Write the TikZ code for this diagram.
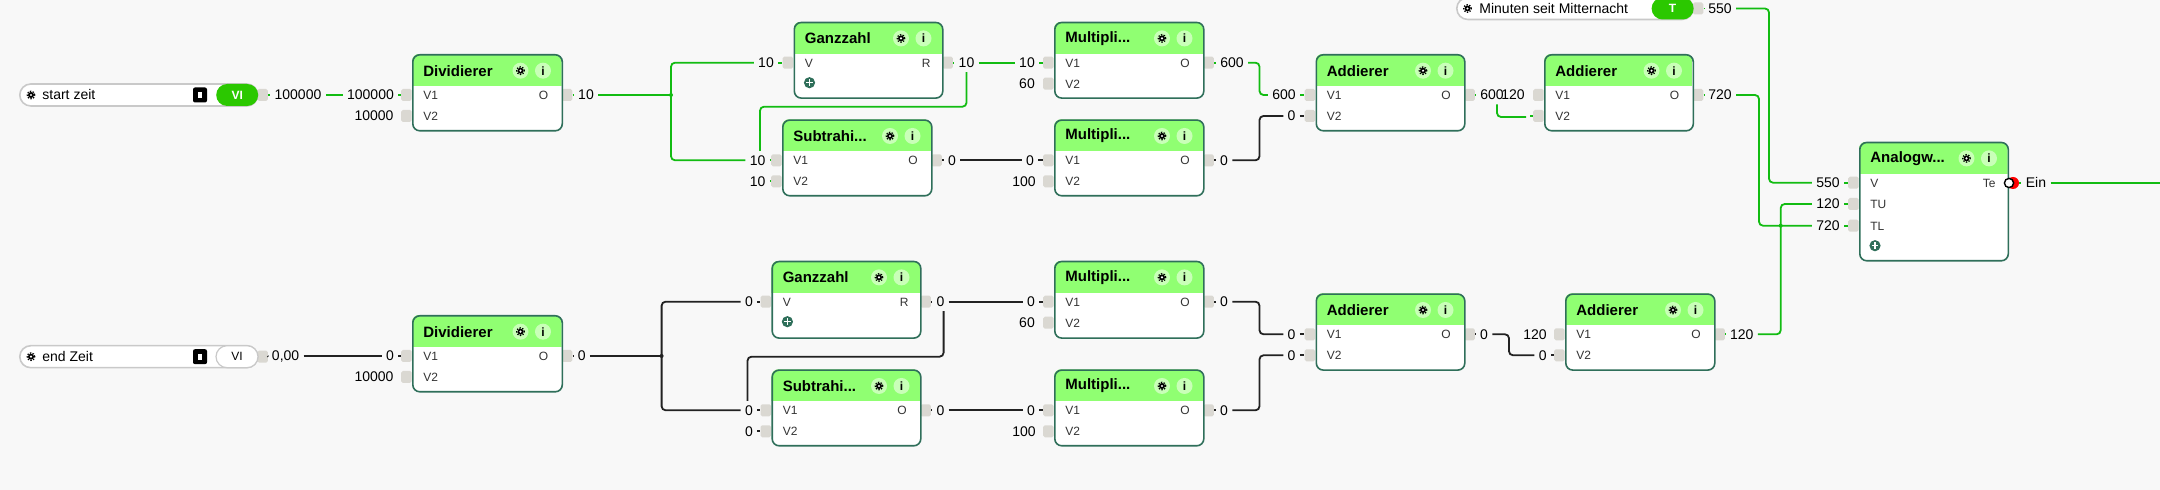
\documentclass[tikz,border=0pt]{standalone}
\usepackage{fontspec}
\setmainfont{Liberation Sans}
\definecolor{bgc}{HTML}{F8F8F8}
\definecolor{hdrc}{HTML}{90FF72}
\definecolor{icoc}{HTML}{C9FFB8}
\definecolor{bordc}{HTML}{2F6F5A}
\definecolor{nubc}{HTML}{DAD8D2}
\definecolor{wgreen}{HTML}{12BC12}
\definecolor{wblack}{HTML}{222222}
\definecolor{pillg}{HTML}{2BC800}
\definecolor{pillb}{HTML}{C9C9C9}
\tikzset{
 gw/.style={draw=wgreen,line width=.9pt,rounded corners=2pt},
 bw/.style={draw=wblack,line width=.9pt,rounded corners=2pt},
 blockbox/.style={draw=bordc,line width=.8pt,rounded corners=3.5pt,inner sep=0pt,anchor=north west},
 nubsty/.style={fill=nubc,inner sep=0pt,minimum width=5.2pt,minimum height=6pt,rounded corners=.8pt},
 lbl/.style={font=\fontsize{7}{8}\selectfont,inner xsep=2pt,inner ysep=2pt,text height=5pt,text depth=0pt,text=black},
 rowt/.style={font=\fontsize{6}{7}\selectfont,inner sep=0pt,text height=4.4pt,text depth=0pt,text=black!80},
 titlet/.style={font=\bfseries\fontsize{7.5}{9}\selectfont,inner sep=0pt,anchor=west,text=black},
 icoc/.style={circle,fill=icoc,inner sep=0pt,minimum size=8pt},
 infot/.style={font=\bfseries\fontsize{6}{7}\selectfont,inner sep=0pt},
 pillb/.style={draw=pillb,line width=.8pt,fill=white,rounded corners=5.5pt,inner sep=0pt,minimum height=11pt,anchor=west},
 pillg/.style={fill=pillg,rounded corners=5.5pt,inner sep=0pt,minimum height=11pt,minimum width=21pt,anchor=east,text=white,font=\bfseries\fontsize{6}{7}\selectfont},
 pillw/.style={draw=pillb,line width=.6pt,fill=white,rounded corners=5.5pt,inner sep=0pt,minimum height=11pt,minimum width=21pt,anchor=east,text=black,font=\fontsize{6}{7}\selectfont},
 pillt/.style={font=\fontsize{7}{8}\selectfont,inner sep=0pt,anchor=west,text=black},
 keysq/.style={fill=black,rounded corners=1pt,inner sep=0pt,minimum width=7pt,minimum height=7.5pt},
 plusn/.style={circle,fill=bordc,inner sep=0pt,minimum size=5.6pt},
 jdot/.style={circle,fill=wgreen,inner sep=0pt,minimum size=2pt},
 jdotb/.style={circle,fill=wblack,inner sep=0pt,minimum size=2pt},
}
\newcommand\gearmark[1]{%
 \fill[black] #1 circle (1.5pt);
 \draw[black,line width=.6pt,dash pattern=on .7pt off .7pt] #1 circle (1.9pt);
 \fill[white] #1 circle (.6pt);}
% common frame of a block: name x1 y1 x2 y2 title
\newcommand\blkframe[6]{%
 \pgfmathsetmacro\bw{(#4-#2)/2}\pgfmathsetmacro\bh{(#5-#3)/2}%
 \fill[white,rounded corners=3.5pt] (#2,#3) rectangle (#4,#5);
 \begin{scope}
 \clip[rounded corners=3.5pt] (#2,#3) rectangle (#4,#5);
 \fill[hdrc] (#2,#3) rectangle (#4,#3+32);
 \end{scope}
 \node[blockbox,minimum width=\bw pt,minimum height=\bh pt] (#1) at (#2,#3) {};
 \node[titlet] (#1-t) at (#2+11,#3+16.7) {#6};
 \node[icoc] (#1-g) at (#4-41,#3+16.7) {};
 \gearmark{(#1-g.center)}
 \node[icoc] (#1-f) at (#4-18.5,#3+16.7) {};
 \node[infot] (#1-ft) at (#1-f.center) {i};
}
\newcommand\nubl[2]{\node[nubsty,anchor=east] (#1) at #2 {};}
\newcommand\nubr[2]{\node[nubsty,anchor=west] (#1) at #2 {};}
% two-input block with output O
\newcommand\vvblk[6]{%
 \nubl{#1-i1}{(#2,#3+41)}\nubl{#1-i2}{(#2,#3+62)}\nubr{#1-o}{(#4,#3+41)}
 \blkframe{#1}{#2}{#3}{#4}{#5}{#6}
 \node[rowt,anchor=west] (#1-a) at (#2+11,#3+41) {V1};
 \node[rowt,anchor=west] (#1-b) at (#2+11,#3+62) {V2};
 \node[rowt,anchor=east] (#1-c) at (#4-13,#3+41) {O};
}
% Ganzzahl block
\newcommand\gzblk[5]{%
 \nubl{#1-i1}{(#2,#3+41)}\nubr{#1-o}{(#4,#3+41)}
 \blkframe{#1}{#2}{#3}{#4}{#5}{Ganzzahl}
 \node[rowt,anchor=west] (#1-a) at (#2+11,#3+41) {V};
 \node[rowt,anchor=east] (#1-c) at (#4-11,#3+41) {R};
 \node[plusn] (#1-p) at (#2+16,#3+61) {};
 \draw[white,line width=.6pt] ([xshift=-1.7pt]#1-p.center) -- ([xshift=1.7pt]#1-p.center) ([yshift=-1.7pt]#1-p.center) -- ([yshift=1.7pt]#1-p.center);
}
\newcommand\lb[4]{\node[lbl] (#1) at (#2,#3) {#4};}
\begin{document}
\begin{tikzpicture}[x=.5pt,y=-.5pt]
\fill[bgc] (0,0) rectangle (2160,490);
\useasboundingbox (0,0) rectangle (2160,490);

% ---------- input pills
\nubr{p1-o}{(257,95)}
\node[pillb,minimum width=119pt] (p1) at (19,95) {};
\node[pillg] (p1-v) at (p1.east) {VI};
\node[keysq] (p1-k) at (200,95) {};
\fill[white] ([xshift=-.8pt,yshift=-1.5pt]p1-k.center) rectangle ([xshift=.8pt,yshift=1.5pt]p1-k.center);
\gearmark{(31,95)}
\node[pillt] (p1-t) at (42,95) {start zeit};

\nubr{p2-o}{(257,356.7)}
\node[pillb,minimum width=119pt] (p2) at (19,356.7) {};
\node[pillw] (p2-v) at (p2.east) {VI};
\node[keysq] (p2-k) at (200,356.7) {};
\fill[white] ([xshift=-.8pt,yshift=-1.5pt]p2-k.center) rectangle ([xshift=.8pt,yshift=1.5pt]p2-k.center);
\gearmark{(31,356.7)}
\node[pillt] (p2-t) at (42,356.7) {end Zeit};

\nubr{p3-o}{(1692.5,8.5)}
\node[pillb,minimum width=118.2pt] (p3) at (1456,8.5) {};
\node[pillg] (p3-v) at (p3.east) {T};
\gearmark{(1467.5,8.5)}
\node[pillt] (p3-t) at (1479,8.5) {Minuten seit Mitternacht};

% ---------- blocks
\vvblk{d1}{412}{54}{561.5}{130}{Dividierer}
\gzblk{g1}{793.5}{21.7}{942}{97.3}
\vvblk{m1}{1054}{21.7}{1203}{97.3}{Multipli...}
\vvblk{s1}{782}{119.3}{931}{195}{Subtrahi...}
\vvblk{m2}{1054}{119.3}{1203}{195}{Multipli...}
\vvblk{a1}{1315.5}{54}{1464}{130}{Addierer}
\vvblk{a2}{1544}{54}{1692.5}{130}{Addierer}
\vvblk{d2}{412}{315}{561.5}{391}{Dividierer}
\gzblk{g2}{771.4}{260.7}{920}{337.3}
\vvblk{s2}{771.4}{369.3}{920}{445}{Subtrahi...}
\vvblk{m3}{1054}{260.7}{1203}{337.3}{Multipli...}
\vvblk{m4}{1054}{369.3}{1203}{445}{Multipli...}
\vvblk{a3}{1315.5}{293.3}{1464}{369.3}{Addierer}
\vvblk{a4}{1565}{293.3}{1714}{369.3}{Addierer}

% Analogwert block
\nubl{an-i1}{(1859,182.7)}\nubl{an-i2}{(1859,204)}\nubl{an-i3}{(1859,225.7)}
\node[fill=red,circle,inner sep=0pt,minimum size=6pt] (an-r) at (2013,183) {};
\blkframe{an}{1859}{141.7}{2007.5}{260}{Analogw...}
\node[rowt,anchor=west] (an-a) at (1870,182.7) {V};
\node[rowt,anchor=west] (an-b) at (1870,204) {TU};
\node[rowt,anchor=west] (an-c) at (1870,225.7) {TL};
\node[rowt,anchor=east] (an-d) at (1996,182.7) {Te};
\node[plusn] (an-p) at (1875,245.7) {};
\draw[white,line width=.6pt] ([xshift=-1.7pt]an-p.center) -- ([xshift=1.7pt]an-p.center) ([yshift=-1.7pt]an-p.center) -- ([yshift=1.7pt]an-p.center);
\node[circle,draw=black,fill=white,line width=.7pt,inner sep=0pt,minimum size=4.6pt] (an-w) at (2009,183) {};

% ---------- labels, upper half
\lb{l1}{298}{95}{100000}
\lb{l2}{370.5}{95}{100000}
\lb{l3}{374}{116}{10000}
\lb{l4}{586}{95}{10}
\lb{l5}{766}{62.7}{10}
\lb{l6}{757.6}{160.3}{10}
\lb{l7}{757.6}{181.3}{10}
\lb{l8}{966.5}{62.7}{10}
\lb{l9}{1027}{62.7}{10}
\lb{l10}{1027}{83.7}{60}
\lb{l11}{1232}{62.7}{600}
\lb{l12}{1284}{95}{600}
\lb{l13}{952}{160.3}{0}
\lb{l14}{1030}{160.3}{0}
\lb{l15}{1024}{181.3}{100}
\lb{l16}{1224}{160.3}{0}
\lb{l17}{1291.6}{116}{0}
\lb{l18}{1492}{95}{600}
\lb{l19}{1513}{95}{120}
\lb{l21}{1720}{95}{720}
\lb{l22}{1828}{225.7}{720}
\lb{l23}{1720}{8.5}{550}
\lb{l24}{1828}{182.7}{550}
\lb{l25}{1828}{204}{120}
\lb{l26}{1741.7}{334.3}{120}
\lb{l27}{2036}{183}{Ein}

% ---------- labels, lower half
\lb{l30}{285.6}{356}{0,00}
\lb{l31}{390}{356}{0}
\lb{l32}{374}{377}{10000}
\lb{l33}{581.7}{356}{0}
\lb{l34}{749}{301.7}{0}
\lb{l35}{749}{410.3}{0}
\lb{l36}{749}{431.3}{0}
\lb{l37}{940.4}{301.7}{0}
\lb{l38}{1031}{301.7}{0}
\lb{l39}{1027}{322.7}{60}
\lb{l40}{1224}{301.7}{0}
\lb{l41}{1291.6}{334.3}{0}
\lb{l42}{940.4}{410.3}{0}
\lb{l43}{1031}{410.3}{0}
\lb{l44}{1024}{431.3}{100}
\lb{l45}{1224}{410.3}{0}
\lb{l46}{1291.6}{355.3}{0}
\lb{l47}{1484}{334.3}{0}
\lb{l48}{1542.7}{355.3}{0}
\lb{l49}{1535}{334.3}{120}

% ---------- routing points
\coordinate (j1) at (671,95);
\coordinate (j2) at (661.6,356);
\coordinate (c1) at (760,106.7);
\coordinate (c2) at (1259.5,80);
\coordinate (c3) at (1259.5,140);
\coordinate (c4) at (1497,117);
\coordinate (c5) at (1526,117);
\coordinate (c6) at (1530,116);
\coordinate (c7) at (1759,160);
\coordinate (c8) at (1769,100);
\coordinate (c9) at (1780.7,270);
\coordinate (c10) at (943.6,356.7);
\coordinate (c11) at (747.5,356.7);
\coordinate (c12) at (1259.5,318);
\coordinate (c13) at (1259.5,384);
\coordinate (c14) at (1509,345);
\coordinate (fr) at (2160,183);

% ---------- green connectors
\draw[gw] (p1-o.east) -- (l1.west);
\draw[gw] (l1.east) -- (l2.west);
\draw[gw] (l2.east) -- (d1-i1.west);
\draw[gw] (d1-o.east) -- (l4.west);
\draw[gw] (l4.east) -- (j1);
\draw[gw] (j1) |- (l5.west);
\draw[gw] (j1) |- (l6.west);
\node[jdot] (j1d) at (j1) {};
\draw[gw] (l5.east) -- (g1-i1.west);
\draw[gw] (l6.east) -- (s1-i1.west);
\draw[gw] (l7.east) -- (s1-i2.west);
\draw[gw] (g1-o.east) -- (l8.west);
\draw[gw] (l8.east) -- (l9.west);
\draw[gw] (l9.east) -- (m1-i1.west);
\draw[gw] (l8.south) |- (c1) -- (c1 |- l6.north);
\draw[gw] (m1-o.east) -- (l11.west);
\draw[gw] (l11.east) -| (c2) |- (l12.west);
\draw[gw] (l12.east) -- (a1-i1.west);
\draw[gw] (a1-o.east) -- (l18.west);
\draw[gw] (c4 |- l18.south) |- (c5);
\draw[gw] (c6) -- (a2-i2.west);
\draw[gw] (a2-o.east) -- (l21.west);
\draw[gw] (l21.east) -| (c7) |- (l22.west);
\draw[gw] (l22.east) -- (an-i3.west);
\draw[gw] (p3-o.east) -- (l23.west);
\draw[gw] (l23.east) -| (c8) |- (l24.west);
\draw[gw] (l24.east) -- (an-i1.west);
\draw[gw] (l25.east) -- (an-i2.west);
\draw[gw] (a4-o.east) -- (l26.west);
\draw[gw] (l26.east) -| (c9) |- (l25.west);
\node[jdot] (xd) at (c9 |- l22.west) {};
\draw[gw] (an-r.east) -- (l27.west);
\draw[gw] (l27.east) -- (fr);

% ---------- black connectors
\draw[bw] (m2-o.east) -- (l16.west);
\draw[bw] (l16.east) -| (c3) |- (l17.west);
\draw[bw] (l17.east) -- (a1-i2.west);
\draw[bw] (s1-o.east) -- (l13.west);
\draw[bw] (l13.east) -- (l14.west);
\draw[bw] (l14.east) -- (m2-i1.west);
\draw[bw] (p2-o.east) -- (l30.west);
\draw[bw] (l30.east) -- (l31.west);
\draw[bw] (l31.east) -- (d2-i1.west);
\draw[bw] (d2-o.east) -- (l33.west);
\draw[bw] (l33.east) -- (j2);
\draw[bw] (j2) |- (l34.west);
\draw[bw] (j2) |- (l35.west);
\node[jdotb] (j2d) at (j2) {};
\draw[bw] (l34.east) -- (g2-i1.west);
\draw[bw] (l35.east) -- (s2-i1.west);
\draw[bw] (l36.east) -- (s2-i2.west);
\draw[bw] (g2-o.east) -- (l37.west);
\draw[bw] (l37.east) -- (l38.west);
\draw[bw] (l38.east) -- (m3-i1.west);
\draw[bw] (c10 |- l37.south) -- (c10) -- (c11) -- (c11 |- l35.north);
\draw[bw] (m3-o.east) -- (l40.west);
\draw[bw] (l40.east) -| (c12) |- (l41.west);
\draw[bw] (l41.east) -- (a3-i1.west);
\draw[bw] (s2-o.east) -- (l42.west);
\draw[bw] (l42.east) -- (l43.west);
\draw[bw] (l43.east) -- (m4-i1.west);
\draw[bw] (m4-o.east) -- (l45.west);
\draw[bw] (l45.east) -| (c13) |- (l46.west);
\draw[bw] (l46.east) -- (a3-i2.west);
\draw[bw] (a3-o.east) -- (l47.west);
\draw[bw] (l47.east) -| (c14) |- (l48.west);
\draw[bw] (l48.east) -- (a4-i2.west);
\end{tikzpicture}
\end{document}
